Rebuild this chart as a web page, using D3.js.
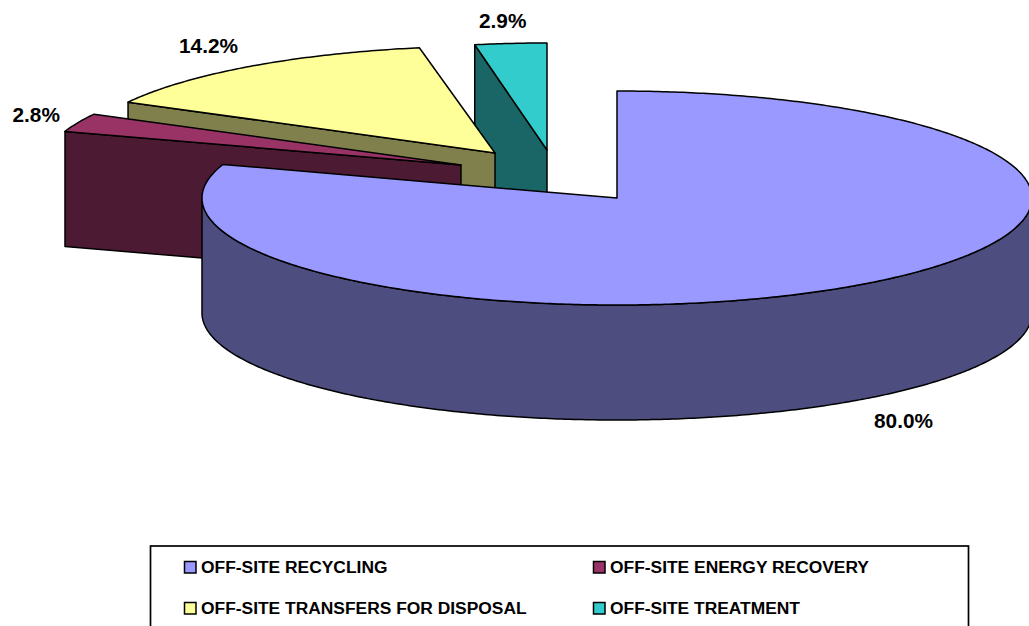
<!DOCTYPE html>
<html>
<head>
<meta charset="utf-8">
<script src="https://cdn.jsdelivr.net/npm/d3@7"></script>
<style>
  html, body { margin: 0; padding: 0; background: #fff; overflow: hidden; }
  svg { display: block; }
  text { font-family: "Liberation Sans", Arial, sans-serif; font-weight: bold; fill: #000; }
</style>
</head>
<body>
<svg id="chart" width="1029" height="626"></svg>
<script>
// Off-site waste management shares, drawn as an exploded 3D pie.
const categories = ["OFF-SITE RECYCLING", "OFF-SITE ENERGY RECOVERY", "OFF-SITE TRANSFERS FOR DISPOSAL", "OFF-SITE TREATMENT"];
const shares = [80.0, 2.8, 14.2, 2.9];
const shareLabels = ["80.0%", "2.8%", "14.2%", "2.9%"];
const topColors = ["#9999ff", "#993366", "#ffff99", "#33cccc"];
const wallColors = ["#4d4d80", "#4d1a33", "#80804d", "#1a6666"];

// Layout of the pie
const center = { x: 617, y: 198 };
const radius = { x: 415, y: 107 };
const depth = 115;
const explodeOffsets = [[0, 0], [-156, -33], [-122, -45], [-70, -48]];
const rimStretch = [1, 1.005, 1.005, 0.96];
const labelAnchors = [[874, 428], [12.5, 122], [179, 53], [479, 28]];

const svg = d3.select("#chart");
const xUnit = d3.scaleLinear().domain([-1, 1]).range([center.x - radius.x, center.x + radius.x]);
const yUnit = d3.scaleLinear().domain([-1, 1]).range([center.y - radius.y, center.y + radius.y]);

const slices = d3.pie().sort(null).value(d => d).startAngle(0).endAngle(2 * Math.PI)(shares);

const rimPoint = (angle, i, drop = 0) => [
  xUnit(Math.sin(angle) * rimStretch[i]) + explodeOffsets[i][0],
  yUnit(-Math.cos(angle)) + explodeOffsets[i][1] + drop
];
const apexPoint = (i, drop = 0) => [
  xUnit(0) + explodeOffsets[i][0],
  yUnit(0) + explodeOffsets[i][1] + drop
];
const rimRun = (a0, a1, i, drop = 0) => {
  const steps = Math.max(2, Math.ceil(Math.abs(a1 - a0) / 0.01));
  return d3.range(steps + 1).map(k => rimPoint(a0 + (a1 - a0) * k / steps, i, drop));
};
const outline = d3.line();
const closed = pts => outline(pts) + "Z";

const pieGroup = svg.append("g").attr("stroke", "#000").attr("stroke-width", 1.5).attr("stroke-linejoin", "round");

// Far wedges first, so nearer wedges paint over them
[3, 2, 1, 0].forEach(i => {
  const s = slices[i];
  if (i === 0) {
    // Curved outer wall along the front half of the large wedge
    const upper = rimRun(Math.PI / 2, 3 * Math.PI / 2, i);
    const lower = rimRun(3 * Math.PI / 2, Math.PI / 2, i, depth);
    pieGroup.append("path").attr("d", closed(upper.concat(lower))).attr("fill", wallColors[i]);
  } else {
    // Radial cut face exposed on the leading edge of each pulled-out wedge
    const face = [rimPoint(s.startAngle, i), apexPoint(i), apexPoint(i, depth), rimPoint(s.startAngle, i, depth)];
    pieGroup.append("path").attr("d", closed(face)).attr("fill", wallColors[i]);
  }
  const top = [apexPoint(i)].concat(rimRun(s.startAngle, s.endAngle, i));
  pieGroup.append("path").attr("d", closed(top)).attr("fill", topColors[i]);
});

// Percentage labels
svg.append("g").selectAll("text").data(shareLabels).join("text")
  .attr("x", (d, i) => labelAnchors[i][0])
  .attr("y", (d, i) => labelAnchors[i][1])
  .attr("font-size", 20.8)
  .text(d => d);

// Legend box runs off the bottom edge of the page
svg.append("rect")
  .attr("x", 150.5).attr("y", 546).attr("width", 818).attr("height", 120)
  .attr("fill", "#fff").attr("stroke", "#000").attr("stroke-width", 1.7);

const legendColumns = [184, 593];
const legendRows = [561, 602];
const legendCell = i => ({ x: legendColumns[i % 2], y: legendRows[Math.floor(i / 2)] });

const legend = svg.append("g").selectAll("g").data(categories).join("g")
  .attr("transform", (d, i) => `translate(${legendCell(i).x},${legendCell(i).y})`);
legend.append("rect")
  .attr("x", 0.5).attr("y", 0.5).attr("width", 11.5).attr("height", 11.5)
  .attr("fill", (d, i) => topColors[i]).attr("stroke", "#000").attr("stroke-width", 1.5);
legend.append("text")
  .attr("x", 17).attr("y", 12)
  .attr("font-size", 17.4)
  .text(d => d);
</script>
</body>
</html>
